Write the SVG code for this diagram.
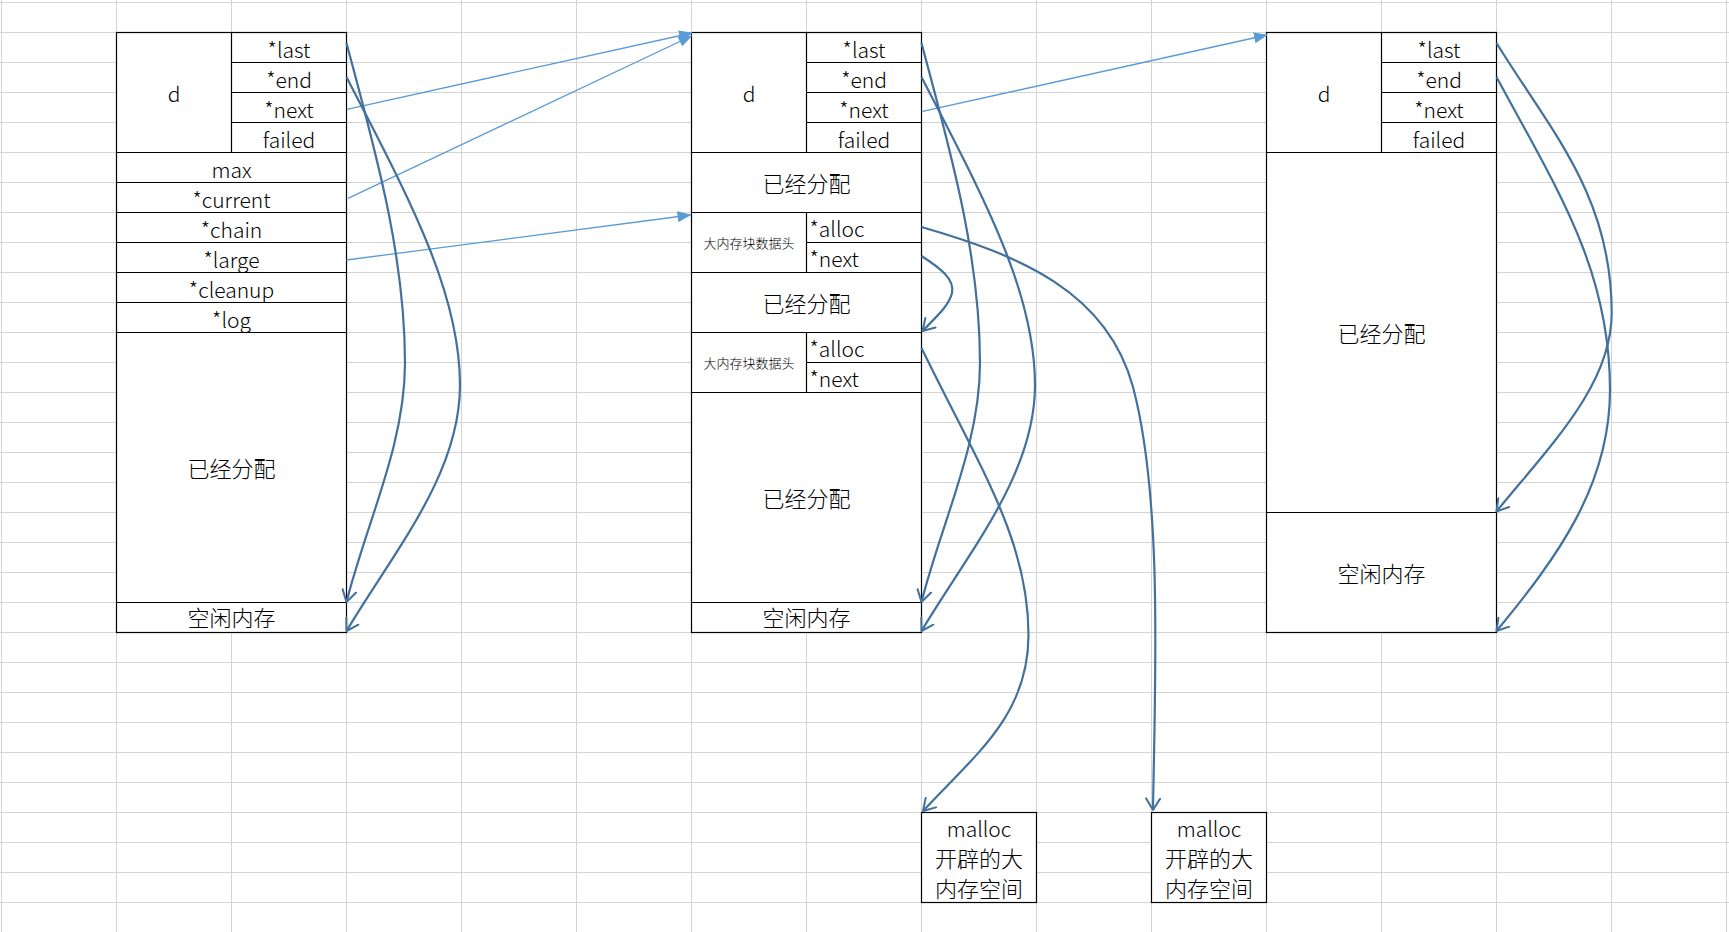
<svg xmlns="http://www.w3.org/2000/svg" width="1729" height="932" viewBox="0 0 1729 932">
<style>
.grid{stroke:#d4d4d4;stroke-width:1;fill:none}
.box{fill:#fff;stroke:#000;stroke-width:1.2}
.ln{stroke:#000;stroke-width:1.2;fill:none}
text{font-family:"Noto Sans CJK SC","Noto Sans",sans-serif;font-size:21px;font-weight:300;fill:#000;text-anchor:middle}
text.l{text-anchor:start}
text.s{font-size:13px}
text.c{font-size:22px}
.ptr{fill:none;stroke:#41719C;stroke-width:2.2;marker-end:url(#open)}
.lnk{fill:none;stroke:#5B9BD5;stroke-width:1.3;marker-end:url(#tri)}
</style>
<defs>
<marker id="open" viewBox="0 0 14 16" refX="12.5" refY="8" markerWidth="14" markerHeight="16" markerUnits="userSpaceOnUse" orient="auto"><path d="M1,1 L12.5,8 L1,15" fill="none" stroke="#41719C" stroke-width="2" stroke-linecap="round" stroke-linejoin="round"/></marker>
<marker id="tri" viewBox="0 0 14 11" refX="13" refY="5.5" markerWidth="14" markerHeight="11" markerUnits="userSpaceOnUse" orient="auto"><path d="M0,0 L14,5.5 L0,11 z" fill="#5B9BD5"/></marker>
</defs>
<rect width="1729" height="932" fill="#fff"/>
<path class="grid" d="M1.5,0V932M116.5,0V932M231.5,0V932M346.5,0V932M461.5,0V932M576.5,0V932M691.5,0V932M806.5,0V932M921.5,0V932M1036.5,0V932M1151.5,0V932M1266.5,0V932M1381.5,0V932M1496.5,0V932M1611.5,0V932M1726.5,0V932M0,2.5H1729M0,32.5H1729M0,62.5H1729M0,92.5H1729M0,122.5H1729M0,152.5H1729M0,182.5H1729M0,212.5H1729M0,242.5H1729M0,272.5H1729M0,302.5H1729M0,332.5H1729M0,362.5H1729M0,392.5H1729M0,422.5H1729M0,452.5H1729M0,482.5H1729M0,512.5H1729M0,542.5H1729M0,572.5H1729M0,602.5H1729M0,632.5H1729M0,662.5H1729M0,692.5H1729M0,722.5H1729M0,752.5H1729M0,782.5H1729M0,812.5H1729M0,842.5H1729M0,872.5H1729M0,902.5H1729"/>

<g id="pool1">
<rect class="box" x="116.5" y="32.5" width="230" height="600"/>
<path class="ln" d="M231.5,32.5V152.5M231.5,62.5H346.5M231.5,92.5H346.5M231.5,122.5H346.5M116.5,152.5H346.5M116.5,182.5H346.5M116.5,212.5H346.5M116.5,242.5H346.5M116.5,272.5H346.5M116.5,302.5H346.5M116.5,332.5H346.5M116.5,602.5H346.5"/>
<text x="174" y="102">d</text>
<text x="289" y="58">*last</text>
<text x="289" y="88">*end</text>
<text x="289" y="118">*next</text>
<text x="289" y="148">failed</text>
<text x="231.5" y="178">max</text>
<text x="231.5" y="208">*current</text>
<text x="231.5" y="238">*chain</text>
<text x="231.5" y="268">*large</text>
<text x="231.5" y="298">*cleanup</text>
<text x="231.5" y="328">*log</text>
<text class="c" x="231.5" y="477">已经分配</text>
<text class="c" x="231.5" y="626">空闲内存</text>
</g>

<g id="pool2">
<rect class="box" x="691.5" y="32.5" width="230" height="600"/>
<path class="ln" d="M806.5,32.5V152.5M806.5,62.5H921.5M806.5,92.5H921.5M806.5,122.5H921.5M691.5,152.5H921.5M691.5,212.5H921.5M806.5,212.5V272.5M806.5,242.5H921.5M691.5,272.5H921.5M691.5,332.5H921.5M806.5,332.5V392.5M806.5,362.5H921.5M691.5,392.5H921.5M691.5,602.5H921.5"/>
<text x="749" y="102">d</text>
<text x="864" y="58">*last</text>
<text x="864" y="88">*end</text>
<text x="864" y="118">*next</text>
<text x="864" y="148">failed</text>
<text class="c" x="806.5" y="192">已经分配</text>
<text class="s" x="749" y="248">大内存块数据头</text>
<text class="l" x="809.5" y="237">*alloc</text>
<text class="l" x="809.5" y="267">*next</text>
<text class="c" x="806.5" y="312">已经分配</text>
<text class="s" x="749" y="368">大内存块数据头</text>
<text class="l" x="809.5" y="357">*alloc</text>
<text class="l" x="809.5" y="387">*next</text>
<text class="c" x="806.5" y="507">已经分配</text>
<text class="c" x="806.5" y="626">空闲内存</text>
</g>

<g id="pool3">
<rect class="box" x="1266.5" y="32.5" width="230" height="600"/>
<path class="ln" d="M1381.5,32.5V152.5M1381.5,62.5H1496.5M1381.5,92.5H1496.5M1381.5,122.5H1496.5M1266.5,152.5H1496.5M1266.5,512.5H1496.5"/>
<text x="1324" y="102">d</text>
<text x="1439" y="58">*last</text>
<text x="1439" y="88">*end</text>
<text x="1439" y="118">*next</text>
<text x="1439" y="148">failed</text>
<text class="c" x="1381.5" y="342">已经分配</text>
<text class="c" x="1381.5" y="582">空闲内存</text>
</g>

<g id="large1">
<rect class="box" x="921.5" y="812.5" width="115" height="90"/>
<text x="979" y="837">malloc</text>
<text class="c" x="979" y="867">开辟的大</text>
<text class="c" x="979" y="897">内存空间</text>
</g>

<g id="large2">
<rect class="box" x="1151.5" y="812.5" width="115" height="90"/>
<text x="1209" y="837">malloc</text>
<text class="c" x="1209" y="867">开辟的大</text>
<text class="c" x="1209" y="897">内存空间</text>
</g>

<g id="connectors">
<path class="lnk" d="M347,109.3 L692,33"/>
<path class="lnk" d="M348,198.3 L691.5,36"/>
<path class="lnk" d="M346.5,260 L690.5,215"/>
<path class="lnk" d="M921.5,111.7 L1267,35"/>
<path class="ptr" d="M346.5,43 C372,140 405,250 405,363 C405,445 366.6,522.4 346.5,602"/>
<path class="ptr" d="M346.5,77 C406,193 460,290 460,385 C460,475 392.7,553 346.5,631"/>
<path class="ptr" d="M921.5,43 C947,140 980,250 980,363 C980,445 941.6,522.4 921.5,602"/>
<path class="ptr" d="M921.5,77 C981,193 1035,290 1035,385 C1035,475 967.7,553 921.5,631"/>
<path class="ptr" d="M921.5,227 C1018,255 1107,290.5 1133,387 C1163,500 1155,680 1153,810"/>
<path class="ptr" d="M921.5,256 C940,268 955,279 952,293 C949,306 935,318 922.5,331"/>
<path class="ptr" d="M921.5,348 C980,468 1028.5,540 1028.5,635 C1028.5,715 976,754 923,811"/>
<path class="ptr" d="M1496.5,43 C1550,130 1611.7,195 1611.7,313 C1611.7,385 1550,445.7 1496.5,511.5"/>
<path class="ptr" d="M1496.5,77 C1558,191 1610,270 1610,390 C1610,485 1557.7,557 1496.5,631"/>
</g>
</svg>
